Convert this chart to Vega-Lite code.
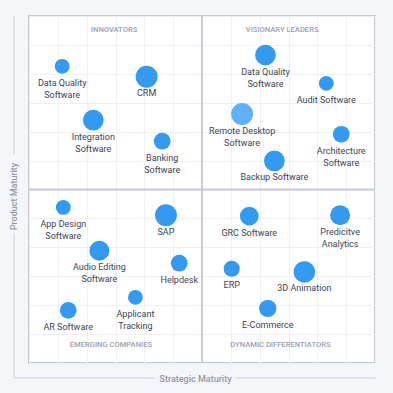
{
  "$schema": "https://vega.github.io/schema/vega-lite/v6.json",
  "width": 346,
  "height": 347,
  "autosize": "none",
  "padding": {"left": 29, "top": 16, "right": 18, "bottom": 30},
  "background": "#f5f6fa",
  "config": {
    "font": "Roboto",
    "view": {"fill": "#ffffff", "stroke": "#c6c8d3", "strokeWidth": 2},
    "axis": {
      "grid": true, "gridColor": "#eef0f5", "gridWidth": 1, "tickCount": 12,
      "domain": false, "ticks": false, "labels": false,
      "titleFont": "Roboto", "titleFontSize": 9, "titleFontWeight": 500, "titleColor": "#9197aa",
      "titleBaseline": "middle", "titleAlign": "center"
    },
    "axisX": {"titleX": 166, "titleY": 15},
    "axisY": {"titleX": -15.5, "titleY": 180}
  },
  "datasets": {
    "quadrants": [
      {"quadrant": "INNOVATORS", "qx": 2.95, "qy": 11.53},
      {"quadrant": "VISIONARY LEADERS", "qx": 8.78, "qy": 11.53},
      {"quadrant": "EMERGING COMPANIES", "qx": 2.84, "qy": 0.62},
      {"quadrant": "DYNAMIC DIFFERENTIATORS", "qx": 8.72, "qy": 0.62}
    ],
    "products": [
      {"name": "Data Quality\nSoftware", "strategic": 1.15, "product": 10.26, "presence": 2.2, "state": "default"},
      {"name": "CRM", "strategic": 4.08, "product": 9.9, "presence": 4.8, "state": "default"},
      {"name": "Integration\nSoftware", "strategic": 2.23, "product": 8.4, "presence": 4.3, "state": "default"},
      {"name": "Banking\nSoftware", "strategic": 4.62, "product": 7.67, "presence": 2.8, "state": "default"},
      {"name": "Data Quality\nSoftware", "strategic": 8.2, "product": 10.65, "presence": 4.3, "state": "default"},
      {"name": "Audit Software", "strategic": 10.31, "product": 9.67, "presence": 2.2, "state": "default"},
      {"name": "Remote Desktop\nSoftware", "strategic": 7.39, "product": 8.61, "presence": 4.8, "state": "highlighted"},
      {"name": "Architecture\nSoftware", "strategic": 10.83, "product": 7.91, "presence": 2.8, "state": "default"},
      {"name": "Backup Software", "strategic": 8.51, "product": 6.99, "presence": 4.3, "state": "default"},
      {"name": "App Design\nSoftware", "strategic": 1.19, "product": 5.38, "presence": 2.2, "state": "default"},
      {"name": "SAP", "strategic": 4.75, "product": 5.11, "presence": 4.8, "state": "default"},
      {"name": "Audio Editing\nSoftware", "strategic": 2.44, "product": 3.88, "presence": 4.0, "state": "default"},
      {"name": "Helpdesk", "strategic": 5.21, "product": 3.45, "presence": 2.8, "state": "default"},
      {"name": "Applicant\nTracking", "strategic": 3.69, "product": 2.27, "presence": 2.2, "state": "default"},
      {"name": "AR Software", "strategic": 1.36, "product": 1.82, "presence": 2.8, "state": "default"},
      {"name": "GRC Software", "strategic": 7.64, "product": 5.08, "presence": 3.5, "state": "default"},
      {"name": "Predicitve\nAnalytics", "strategic": 10.79, "product": 5.11, "presence": 4.0, "state": "default"},
      {"name": "ERP", "strategic": 7.03, "product": 3.26, "presence": 2.6, "state": "default"},
      {"name": "3D Animation", "strategic": 9.55, "product": 3.15, "presence": 4.6, "state": "default"},
      {"name": "E-Commerce", "strategic": 8.28, "product": 1.89, "presence": 3.0, "state": "default"}
    ]
  },
  "layer": [
    {
      "data": {"values": [{}]},
      "mark": {"type": "rule", "color": "#c8cad5", "strokeWidth": 2},
      "encoding": {
        "x": {"datum": 6, "type": "quantitative", "scale": {"domain": [0, 12], "nice": false, "zero": false}, "title": "Strategic Maturity"}
      }
    },
    {
      "data": {"values": [{}]},
      "mark": {"type": "rule", "color": "#c8cad5", "strokeWidth": 2},
      "encoding": {
        "y": {"datum": 6, "type": "quantitative", "scale": {"domain": [0, 12], "nice": false, "zero": false}, "title": "Product Maturity"}
      }
    },
    {
      "data": {"values": [{}]},
      "mark": {"type": "rule", "color": "#e1e2ee", "strokeWidth": 2, "clip": false},
      "encoding": {
        "x": {"datum": -0.52, "type": "quantitative", "scale": {"domain": [0, 12], "nice": false, "zero": false}, "title": "Strategic Maturity"},
        "y": {"datum": -0.52, "type": "quantitative", "scale": {"domain": [0, 12], "nice": false, "zero": false}, "title": "Product Maturity"},
        "y2": {"datum": 4.5}
      }
    },
    {
      "data": {"values": [{}]},
      "mark": {"type": "rule", "color": "#e1e2ee", "strokeWidth": 2, "clip": false},
      "encoding": {
        "x": {"datum": -0.52, "type": "quantitative", "scale": {"domain": [0, 12], "nice": false, "zero": false}, "title": "Strategic Maturity"},
        "y": {"datum": 7.2, "type": "quantitative", "scale": {"domain": [0, 12], "nice": false, "zero": false}, "title": "Product Maturity"},
        "y2": {"datum": 12}
      }
    },
    {
      "data": {"values": [{}]},
      "mark": {"type": "rule", "color": "#e1e2ee", "strokeWidth": 2, "clip": false},
      "encoding": {
        "x": {"datum": -0.52, "type": "quantitative", "scale": {"domain": [0, 12], "nice": false, "zero": false}, "title": "Strategic Maturity"},
        "x2": {"datum": 4.37},
        "y": {"datum": -0.52, "type": "quantitative", "scale": {"domain": [0, 12], "nice": false, "zero": false}, "title": "Product Maturity"}
      }
    },
    {
      "data": {"values": [{}]},
      "mark": {"type": "rule", "color": "#e1e2ee", "strokeWidth": 2, "clip": false},
      "encoding": {
        "x": {"datum": 7.18, "type": "quantitative", "scale": {"domain": [0, 12], "nice": false, "zero": false}, "title": "Strategic Maturity"},
        "x2": {"datum": 12.03},
        "y": {"datum": -0.52, "type": "quantitative", "scale": {"domain": [0, 12], "nice": false, "zero": false}, "title": "Product Maturity"}
      }
    },
    {
      "data": {"name": "quadrants"},
      "mark": {"type": "text", "font": "Roboto", "fontSize": 7.6, "fontWeight": 500, "color": "#9ca0b1", "baseline": "middle", "align": "center"},
      "encoding": {
        "x": {"field": "qx", "type": "quantitative", "scale": {"domain": [0, 12], "nice": false, "zero": false}, "title": "Strategic Maturity"},
        "y": {"field": "qy", "type": "quantitative", "scale": {"domain": [0, 12], "nice": false, "zero": false}, "title": "Product Maturity"},
        "text": {"field": "quadrant"}
      }
    },
    {
      "data": {"name": "products"},
      "mark": {"type": "circle", "opacity": 1},
      "encoding": {
        "x": {"field": "strategic", "type": "quantitative", "scale": {"domain": [0, 12], "nice": false, "zero": false}, "title": "Strategic Maturity"},
        "y": {"field": "product", "type": "quantitative", "scale": {"domain": [0, 12], "nice": false, "zero": false}, "title": "Product Maturity"},
        "size": {"field": "presence", "type": "quantitative", "scale": {"domain": [0, 5], "range": [0, 500], "zero": true}, "legend": null},
        "color": {"field": "state", "type": "nominal", "scale": {"domain": ["default", "highlighted"], "range": ["#339af0", "#5fb1f5"]}, "legend": null}
      }
    },
    {
      "data": {"name": "products"},
      "mark": {"type": "text", "font": "Roboto", "fontSize": 9, "color": "#3d4356", "baseline": "top", "align": "center", "dy": 12.5, "lineBreak": "\n", "lineHeight": 12},
      "encoding": {
        "x": {"field": "strategic", "type": "quantitative", "scale": {"domain": [0, 12], "nice": false, "zero": false}, "title": "Strategic Maturity"},
        "y": {"field": "product", "type": "quantitative", "scale": {"domain": [0, 12], "nice": false, "zero": false}, "title": "Product Maturity"},
        "text": {"field": "name"}
      }
    }
  ]
}
